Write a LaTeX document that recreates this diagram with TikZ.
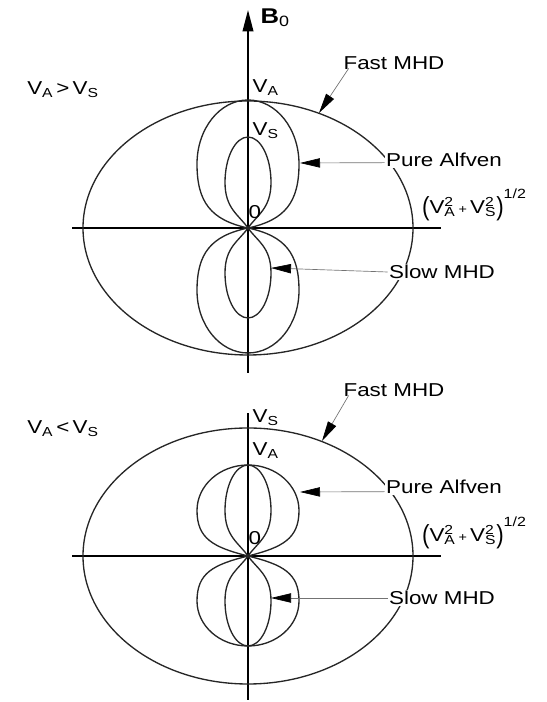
\documentclass[tikz,border=0pt]{standalone}
\usepackage{fontspec}
\usepackage{tikz}
\usetikzlibrary{arrows.meta, positioning}
\newfontfamily\lblfont{Liberation Sans}[FakeStretch=1.2]
\tikzset{
  axis/.style={line width=1.2pt, black},
  curve/.style={line width=1pt, black!85},
  lead/.style={-{Triangle[length=15pt, width=7pt, color=black]},
               line width=0.5pt, black!55},
  lbl/.style={font=\lblfont\fontsize{14}{16}\selectfont, fill=white, inner sep=1pt},
  vlbl/.style={lbl, fill=none, anchor=west},
  % one lobe: width, height, angle at origin, control lengths
  pics/lobe/.style n args={5}{code={
    \draw[curve] (0,0) .. controls (#3:#4) and (#1,#2/2-#5) .. (#1,#2/2)
      .. controls (#1,#2/2+0.276*#2) and (0.552*#1,#2) .. (0,#2)
      .. controls (-0.552*#1,#2) and (-#1,#2/2+0.276*#2) .. (-#1,#2/2)
      .. controls (-#1,#2/2-#5) and (180-#3:#4) .. (0,0);
  }},
}
\newcommand{\VA}{V\textsubscript{A}}
\newcommand{\VS}{V\textsubscript{S}}
\newcommand{\sumsq}{\raisebox{-0.1em}{\scalebox{1}[1.4]{(}}%
  V\rlap{\textsuperscript{2}}\textsubscript{A}\,{\fontsize{9}{10}\selectfont+}\,%
  V\rlap{\textsuperscript{2}}\textsubscript{S}%
  \raisebox{-0.1em}{\scalebox{1}[1.4]{)}}\raisebox{0.8em}{\fontsize{10}{11}\selectfont 1/2}}

\begin{document}
\begin{tikzpicture}[x=0.75pt, y=0.75pt]
  \useasboundingbox (0,0) rectangle (546,702);

  % Upper diagram: V_A > V_S
  \coordinate (o1) at (248,474);
  \draw[axis] (248,329) -- (248,474) coordinate (mid1);
  \draw[axis, -{Triangle[length=16pt, width=8pt]}] (mid1) -- (248,692) coordinate (top1);
  \draw[axis] (72,474) -- (441,474);
  \draw[curve] (o1) ellipse [x radius=165, y radius=127];
  \pic at (o1) {lobe={51}{128}{12}{38}{38}};
  \pic[yscale=-1] at (o1) {lobe={51}{125}{12}{38}{37}};
  \pic at (o1) {lobe={23}{91}{55}{16}{26}};
  \pic[yscale=-1] at (o1) {lobe={23}{90}{55}{16}{26}};

  % Lower diagram: V_A < V_S
  \coordinate (o2) at (248,146);
  \draw[axis] (248,2) -- (248,289) coordinate (top2);
  \draw[axis] (72,146) -- (441,146);
  \draw[curve] (o2) ellipse [x radius=165, y radius=128];
  \pic at (o2) {lobe={51}{91}{14}{36}{28}};
  \pic[yscale=-1] at (o2) {lobe={51}{90}{14}{36}{28}};
  \pic at (o2) {lobe={23}{91}{55}{16}{26}};
  \pic[yscale=-1] at (o2) {lobe={23}{90}{55}{16}{26}};

  % Labels, upper
  \node[vlbl, font=\lblfont\fontsize{16}{18}\selectfont\bfseries] (b0) at (259,684)
    {B\textsubscript{\mdseries 0}};
  \node[vlbl] (vA1) at (251,614) {\VA};
  \node[vlbl] (vS1) at (251,571) {\VS};
  \node[vlbl] (zero1) at (247,490) {0};
  \node[lbl, fill=none] (cond1) at (63,612) {\VA\,>\,\VS};
  \node[lbl] (fast1) at (394,639) {Fast MHD};
  \node[lbl] (alf1) at (444,542) {Pure Alfven};
  \node[lbl, inner sep=0pt] (frm1) at (474,497) {\sumsq};
  \node[lbl] (slow1) at (442,430) {Slow MHD};

  % Labels, lower
  \node[vlbl] (vS2) at (251,284) {\VS};
  \node[vlbl] (vA2) at (251,251) {\VA};
  \node[vlbl] (zero2) at (247,164) {0};
  \node[lbl, fill=none] (cond2) at (63,273) {\VA\,<\,\VS};
  \node[lbl] (fast2) at (394,312) {Fast MHD};
  \node[lbl] (alf2) at (444,215) {Pure Alfven};
  \node[lbl, inner sep=0pt] (frm2) at (474,169) {\sumsq};
  \node[lbl] (slow2) at (442,104) {Slow MHD};

  % Leader arrows
  \coordinate (fast1tip) at (319,589);
  \coordinate (alf1tip) at (300,539);
  \coordinate (slow1tip) at (271,434);
  \coordinate (fast2tip) at (322,261);
  \coordinate (alf2tip) at (300,210);
  \coordinate (slow2tip) at (271,104);
  \draw[lead] ([xshift=5pt,yshift=2pt]fast1.south west) -- (fast1tip);
  \draw[lead] ([yshift=-2pt]alf1.west) -- (alf1tip);
  \draw[lead] (slow1.west) -- (slow1tip);
  \draw[lead] ([xshift=5pt,yshift=2pt]fast2.south west) -- (fast2tip);
  \draw[lead] ([yshift=-3.5pt]alf2.west) -- (alf2tip);
  \draw[lead] (slow2.west) -- (slow2tip);
\end{tikzpicture}
\end{document}
